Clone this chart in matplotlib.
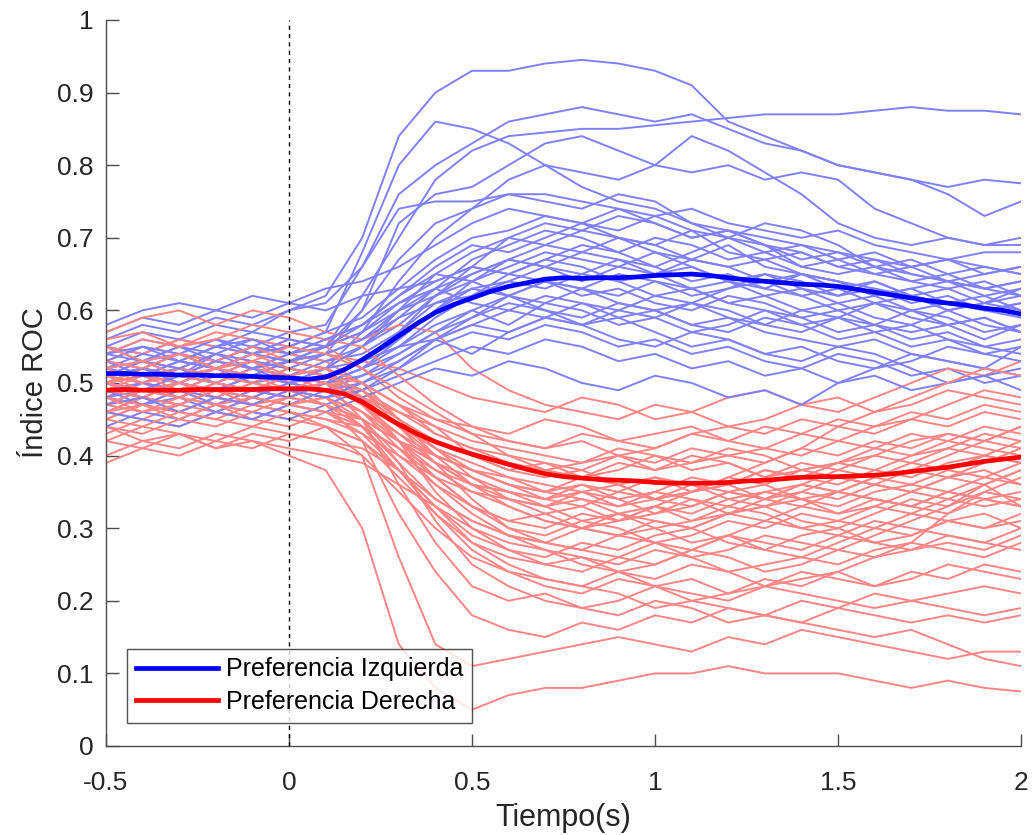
import matplotlib
matplotlib.use("Agg")
import matplotlib.pyplot as plt

plt.rcParams['font.family'] = ['Liberation Sans', 'DejaVu Sans']

# time axis (s) for the individual curves
time = [-0.5, -0.4, -0.3, -0.2, -0.1, 0.0, 0.1, 0.2, 0.3, 0.4, 0.5, 0.6, 0.7,
        0.8, 0.9, 1.0, 1.1, 1.2, 1.3, 1.4, 1.5, 1.6, 1.7, 1.8, 1.9, 2.0]

# individual ROC curves, left-preferring neurons
left_curves = [
    [0.55,0.57,0.56,0.58,0.57,0.60,0.62,0.70,0.84,0.90,0.93,0.93,0.94,0.945,0.94,0.93,0.91,0.86,0.84,0.82,0.80,0.79,0.78,0.77,0.78,0.775],
    [0.50,0.52,0.51,0.53,0.52,0.54,0.55,0.62,0.70,0.78,0.82,0.84,0.845,0.85,0.85,0.855,0.86,0.865,0.87,0.87,0.87,0.875,0.88,0.875,0.875,0.87],
    [0.52,0.53,0.55,0.54,0.56,0.55,0.57,0.68,0.80,0.86,0.85,0.83,0.80,0.77,0.75,0.74,0.72,0.71,0.70,0.69,0.68,0.67,0.66,0.67,0.66,0.65],
    [0.54,0.53,0.55,0.56,0.55,0.57,0.58,0.66,0.76,0.80,0.83,0.86,0.87,0.88,0.87,0.86,0.87,0.85,0.83,0.82,0.80,0.79,0.78,0.76,0.73,0.75],
    [0.50,0.51,0.50,0.52,0.51,0.53,0.54,0.60,0.72,0.76,0.77,0.80,0.83,0.84,0.82,0.80,0.79,0.80,0.78,0.79,0.78,0.74,0.72,0.70,0.69,0.69],
    [0.56,0.58,0.57,0.59,0.58,0.60,0.61,0.66,0.74,0.75,0.75,0.76,0.76,0.75,0.74,0.73,0.74,0.72,0.71,0.70,0.71,0.69,0.68,0.67,0.68,0.68],
    [0.48,0.49,0.50,0.49,0.51,0.50,0.52,0.57,0.64,0.70,0.74,0.78,0.80,0.79,0.78,0.80,0.84,0.82,0.79,0.76,0.72,0.70,0.69,0.70,0.69,0.70],
    [0.52,0.51,0.53,0.52,0.54,0.53,0.55,0.60,0.67,0.72,0.74,0.76,0.75,0.74,0.76,0.75,0.72,0.70,0.72,0.71,0.69,0.66,0.65,0.64,0.63,0.64],
    [0.50,0.52,0.51,0.50,0.52,0.51,0.52,0.55,0.60,0.65,0.68,0.70,0.69,0.71,0.70,0.68,0.67,0.69,0.66,0.65,0.64,0.63,0.62,0.63,0.61,0.62],
    [0.53,0.52,0.54,0.53,0.52,0.54,0.53,0.55,0.58,0.62,0.64,0.66,0.68,0.67,0.66,0.68,0.66,0.64,0.65,0.63,0.62,0.64,0.62,0.60,0.61,0.60],
    [0.47,0.49,0.48,0.50,0.49,0.48,0.50,0.52,0.56,0.60,0.63,0.64,0.66,0.65,0.67,0.66,0.64,0.65,0.63,0.62,0.60,0.61,0.59,0.58,0.59,0.57],
    [0.55,0.54,0.56,0.55,0.57,0.56,0.55,0.57,0.60,0.62,0.66,0.70,0.72,0.71,0.73,0.72,0.70,0.71,0.69,0.66,0.65,0.66,0.64,0.65,0.63,0.64],
    [0.51,0.50,0.49,0.51,0.50,0.52,0.51,0.53,0.55,0.58,0.60,0.62,0.61,0.63,0.62,0.64,0.63,0.61,0.62,0.60,0.61,0.59,0.58,0.60,0.58,0.57],
    [0.49,0.47,0.48,0.46,0.48,0.47,0.49,0.51,0.54,0.57,0.59,0.61,0.60,0.59,0.61,0.60,0.58,0.57,0.59,0.58,0.56,0.57,0.55,0.56,0.54,0.55],
    [0.54,0.56,0.55,0.53,0.55,0.54,0.56,0.58,0.62,0.66,0.69,0.68,0.70,0.72,0.70,0.69,0.71,0.68,0.67,0.68,0.66,0.65,0.66,0.64,0.65,0.66],
    [0.50,0.51,0.53,0.52,0.50,0.51,0.53,0.54,0.57,0.61,0.62,0.65,0.64,0.62,0.63,0.61,0.60,0.62,0.61,0.59,0.60,0.58,0.57,0.58,0.56,0.58],
    [0.46,0.48,0.47,0.49,0.48,0.50,0.49,0.50,0.52,0.55,0.57,0.56,0.58,0.57,0.55,0.56,0.54,0.55,0.53,0.52,0.54,0.53,0.51,0.52,0.50,0.51],
    [0.52,0.53,0.51,0.54,0.53,0.52,0.54,0.56,0.60,0.63,0.67,0.69,0.71,0.70,0.68,0.70,0.69,0.67,0.68,0.66,0.67,0.65,0.64,0.63,0.64,0.62],
    [0.57,0.59,0.58,0.60,0.59,0.61,0.60,0.62,0.63,0.64,0.66,0.65,0.67,0.66,0.64,0.65,0.63,0.64,0.62,0.63,0.61,0.62,0.60,0.61,0.62,0.60],
    [0.48,0.50,0.49,0.47,0.49,0.48,0.50,0.51,0.53,0.56,0.58,0.60,0.59,0.61,0.60,0.62,0.61,0.63,0.64,0.62,0.63,0.61,0.62,0.60,0.61,0.63],
    [0.51,0.52,0.50,0.52,0.51,0.53,0.52,0.55,0.59,0.63,0.65,0.67,0.66,0.64,0.66,0.65,0.67,0.66,0.64,0.65,0.63,0.64,0.62,0.61,0.60,0.59],
    [0.53,0.51,0.52,0.50,0.52,0.51,0.50,0.52,0.55,0.59,0.62,0.64,0.63,0.65,0.64,0.62,0.63,0.61,0.60,0.58,0.59,0.57,0.58,0.56,0.55,0.56],
    [0.49,0.50,0.52,0.51,0.53,0.52,0.51,0.53,0.56,0.60,0.64,0.67,0.69,0.68,0.70,0.69,0.67,0.66,0.67,0.65,0.64,0.62,0.63,0.61,0.60,0.61],
    [0.55,0.53,0.54,0.56,0.54,0.55,0.57,0.59,0.63,0.67,0.70,0.71,0.73,0.72,0.71,0.73,0.71,0.70,0.68,0.69,0.67,0.68,0.66,0.67,0.65,0.66],
    [0.50,0.49,0.51,0.50,0.49,0.51,0.50,0.52,0.54,0.57,0.60,0.58,0.61,0.60,0.58,0.59,0.57,0.58,0.60,0.59,0.57,0.58,0.56,0.57,0.55,0.54],
    [0.52,0.54,0.53,0.55,0.54,0.56,0.55,0.57,0.61,0.64,0.66,0.65,0.67,0.69,0.68,0.66,0.68,0.70,0.69,0.67,0.68,0.66,0.67,0.65,0.66,0.65],
    [0.48,0.47,0.49,0.48,0.47,0.49,0.48,0.49,0.51,0.53,0.55,0.54,0.56,0.55,0.53,0.54,0.52,0.53,0.51,0.52,0.50,0.51,0.49,0.50,0.51,0.49],
    [0.46,0.45,0.44,0.46,0.45,0.47,0.46,0.48,0.50,0.52,0.51,0.53,0.52,0.50,0.49,0.51,0.50,0.48,0.49,0.47,0.50,0.52,0.53,0.55,0.54,0.53],
    [0.51,0.52,0.51,0.53,0.52,0.50,0.52,0.53,0.55,0.56,0.54,0.57,0.59,0.58,0.56,0.55,0.57,0.56,0.54,0.55,0.53,0.52,0.54,0.53,0.52,0.55],
    [0.58,0.60,0.61,0.60,0.62,0.61,0.63,0.64,0.66,0.69,0.72,0.74,0.73,0.72,0.74,0.72,0.70,0.71,0.69,0.68,0.66,0.67,0.65,0.64,0.63,0.62],
    [0.44,0.46,0.45,0.47,0.46,0.45,0.47,0.49,0.52,0.56,0.59,0.62,0.64,0.63,0.61,0.60,0.58,0.59,0.57,0.56,0.55,0.56,0.54,0.53,0.52,0.51],
    [0.53,0.55,0.54,0.52,0.54,0.53,0.55,0.58,0.62,0.65,0.64,0.62,0.60,0.58,0.59,0.57,0.55,0.56,0.54,0.53,0.55,0.54,0.52,0.50,0.51,0.52],
    [0.51,0.53,0.52,0.54,0.52,0.53,0.54,0.56,0.59,0.61,0.63,0.62,0.64,0.63,0.65,0.64,0.62,0.63,0.65,0.64,0.62,0.63,0.61,0.62,0.60,0.61],
    [0.49,0.48,0.50,0.49,0.51,0.50,0.51,0.53,0.57,0.62,0.65,0.67,0.66,0.68,0.67,0.65,0.66,0.64,0.63,0.65,0.64,0.62,0.63,0.64,0.62,0.63],
    [0.54,0.55,0.53,0.55,0.56,0.54,0.56,0.58,0.61,0.63,0.61,0.60,0.62,0.61,0.59,0.60,0.61,0.59,0.58,0.60,0.59,0.61,0.60,0.58,0.59,0.57],
    [0.47,0.48,0.46,0.48,0.47,0.49,0.48,0.50,0.53,0.56,0.58,0.57,0.59,0.58,0.60,0.59,0.61,0.60,0.58,0.57,0.59,0.58,0.60,0.59,0.57,0.58],
]

# individual ROC curves, right-preferring neurons
right_curves = [
    [0.42,0.44,0.43,0.41,0.42,0.40,0.38,0.30,0.14,0.08,0.05,0.07,0.08,0.08,0.09,0.10,0.10,0.11,0.10,0.10,0.10,0.09,0.08,0.09,0.08,0.075],
    [0.45,0.47,0.46,0.48,0.47,0.46,0.44,0.40,0.26,0.14,0.11,0.12,0.13,0.14,0.15,0.14,0.13,0.15,0.14,0.16,0.15,0.14,0.13,0.12,0.13,0.13],
    [0.48,0.47,0.49,0.48,0.50,0.49,0.47,0.42,0.32,0.24,0.18,0.16,0.15,0.17,0.16,0.18,0.17,0.19,0.18,0.17,0.16,0.15,0.16,0.14,0.12,0.11],
    [0.50,0.49,0.51,0.50,0.49,0.51,0.50,0.45,0.36,0.28,0.22,0.20,0.21,0.19,0.20,0.22,0.21,0.20,0.22,0.21,0.20,0.19,0.20,0.21,0.22,0.21],
    [0.46,0.45,0.47,0.46,0.48,0.47,0.46,0.43,0.38,0.32,0.27,0.24,0.23,0.22,0.24,0.23,0.25,0.24,0.22,0.23,0.24,0.22,0.23,0.25,0.24,0.23],
    [0.52,0.51,0.53,0.52,0.51,0.53,0.52,0.48,0.42,0.35,0.30,0.27,0.25,0.26,0.24,0.25,0.27,0.26,0.24,0.25,0.27,0.29,0.31,0.33,0.36,0.38],
    [0.49,0.50,0.48,0.50,0.49,0.48,0.47,0.44,0.39,0.34,0.31,0.29,0.28,0.27,0.29,0.28,0.26,0.27,0.29,0.28,0.27,0.26,0.27,0.28,0.27,0.29],
    [0.44,0.42,0.43,0.41,0.43,0.42,0.44,0.42,0.38,0.33,0.29,0.27,0.26,0.28,0.27,0.29,0.30,0.28,0.27,0.29,0.30,0.28,0.29,0.31,0.30,0.32],
    [0.51,0.53,0.52,0.54,0.53,0.52,0.51,0.47,0.42,0.38,0.35,0.33,0.31,0.30,0.32,0.31,0.30,0.32,0.33,0.31,0.30,0.32,0.34,0.33,0.35,0.34],
    [0.47,0.48,0.47,0.49,0.48,0.50,0.49,0.46,0.42,0.39,0.37,0.35,0.34,0.33,0.35,0.34,0.33,0.35,0.34,0.36,0.35,0.37,0.36,0.38,0.37,0.39],
    [0.53,0.52,0.54,0.53,0.55,0.54,0.53,0.50,0.45,0.42,0.40,0.38,0.37,0.38,0.36,0.37,0.35,0.36,0.38,0.37,0.39,0.38,0.40,0.41,0.40,0.42],
    [0.48,0.50,0.49,0.47,0.49,0.48,0.50,0.47,0.44,0.41,0.39,0.37,0.36,0.35,0.36,0.34,0.35,0.36,0.34,0.35,0.37,0.36,0.35,0.37,0.38,0.36],
    [0.50,0.48,0.50,0.49,0.51,0.50,0.49,0.48,0.46,0.44,0.42,0.41,0.40,0.39,0.40,0.38,0.39,0.40,0.41,0.40,0.42,0.41,0.43,0.42,0.44,0.43],
    [0.55,0.54,0.56,0.55,0.54,0.56,0.55,0.52,0.48,0.45,0.43,0.42,0.41,0.42,0.40,0.41,0.43,0.42,0.44,0.43,0.45,0.44,0.46,0.45,0.47,0.46],
    [0.45,0.47,0.46,0.45,0.47,0.46,0.45,0.44,0.41,0.38,0.36,0.34,0.33,0.31,0.32,0.30,0.31,0.33,0.32,0.30,0.31,0.33,0.32,0.31,0.30,0.31],
    [0.52,0.50,0.51,0.53,0.52,0.51,0.50,0.49,0.46,0.43,0.41,0.39,0.38,0.37,0.39,0.38,0.40,0.39,0.37,0.38,0.39,0.41,0.40,0.42,0.41,0.40],
    [0.43,0.45,0.44,0.46,0.45,0.44,0.46,0.45,0.42,0.40,0.38,0.37,0.35,0.36,0.34,0.35,0.37,0.36,0.38,0.37,0.36,0.38,0.37,0.39,0.40,0.39],
    [0.50,0.51,0.52,0.51,0.50,0.52,0.51,0.48,0.45,0.41,0.37,0.34,0.32,0.33,0.31,0.32,0.34,0.33,0.35,0.34,0.33,0.35,0.36,0.35,0.37,0.36],
    [0.57,0.59,0.60,0.58,0.60,0.59,0.57,0.56,0.58,0.57,0.52,0.49,0.47,0.46,0.45,0.47,0.46,0.44,0.45,0.47,0.46,0.48,0.50,0.52,0.51,0.53],
    [0.54,0.56,0.55,0.57,0.56,0.55,0.54,0.53,0.52,0.50,0.48,0.47,0.46,0.48,0.47,0.45,0.46,0.48,0.49,0.47,0.48,0.46,0.47,0.49,0.48,0.47],
    [0.47,0.46,0.48,0.47,0.45,0.47,0.48,0.46,0.43,0.40,0.38,0.36,0.35,0.34,0.33,0.35,0.34,0.32,0.33,0.34,0.32,0.33,0.35,0.34,0.33,0.34],
    [0.49,0.51,0.50,0.52,0.51,0.49,0.50,0.47,0.43,0.39,0.36,0.33,0.31,0.30,0.29,0.30,0.28,0.29,0.31,0.30,0.29,0.31,0.30,0.29,0.28,0.30],
    [0.51,0.49,0.50,0.48,0.50,0.52,0.51,0.50,0.47,0.44,0.40,0.38,0.39,0.37,0.38,0.40,0.39,0.41,0.40,0.38,0.39,0.40,0.42,0.43,0.42,0.44],
    [0.46,0.48,0.47,0.49,0.47,0.48,0.47,0.45,0.40,0.36,0.33,0.31,0.32,0.30,0.31,0.33,0.32,0.34,0.33,0.35,0.34,0.36,0.35,0.37,0.39,0.41],
    [0.42,0.41,0.43,0.42,0.44,0.43,0.42,0.40,0.35,0.30,0.26,0.24,0.22,0.21,0.23,0.22,0.20,0.21,0.23,0.22,0.24,0.26,0.28,0.32,0.35,0.37],
    [0.53,0.55,0.54,0.53,0.55,0.53,0.52,0.50,0.47,0.45,0.44,0.43,0.45,0.44,0.42,0.43,0.44,0.42,0.41,0.43,0.42,0.44,0.45,0.44,0.46,0.45],
    [0.48,0.47,0.46,0.48,0.47,0.49,0.48,0.44,0.38,0.33,0.28,0.26,0.25,0.24,0.26,0.25,0.27,0.29,0.28,0.27,0.29,0.28,0.27,0.29,0.28,0.27],
    [0.50,0.52,0.51,0.50,0.52,0.51,0.49,0.46,0.41,0.36,0.32,0.29,0.28,0.30,0.29,0.31,0.30,0.32,0.31,0.33,0.32,0.34,0.33,0.35,0.34,0.33],
    [0.44,0.43,0.45,0.44,0.46,0.45,0.44,0.42,0.37,0.32,0.28,0.25,0.23,0.22,0.21,0.19,0.20,0.19,0.18,0.20,0.19,0.21,0.20,0.19,0.18,0.19],
    [0.56,0.57,0.55,0.56,0.58,0.57,0.56,0.55,0.51,0.47,0.44,0.42,0.41,0.43,0.42,0.41,0.43,0.44,0.43,0.45,0.44,0.43,0.45,0.47,0.49,0.48],
    [0.40,0.42,0.41,0.43,0.42,0.41,0.40,0.39,0.36,0.33,0.30,0.28,0.27,0.26,0.25,0.27,0.26,0.24,0.25,0.26,0.25,0.27,0.28,0.27,0.26,0.28],
    [0.51,0.50,0.52,0.51,0.53,0.50,0.51,0.49,0.45,0.40,0.36,0.35,0.34,0.36,0.35,0.37,0.36,0.34,0.35,0.36,0.38,0.37,0.39,0.38,0.40,0.39],
    [0.47,0.49,0.48,0.47,0.48,0.47,0.48,0.45,0.39,0.31,0.25,0.22,0.20,0.19,0.18,0.20,0.19,0.17,0.18,0.17,0.19,0.18,0.17,0.18,0.17,0.18],
    [0.49,0.48,0.50,0.49,0.47,0.49,0.50,0.48,0.44,0.40,0.38,0.36,0.34,0.35,0.33,0.34,0.36,0.35,0.34,0.36,0.35,0.34,0.33,0.35,0.34,0.35],
    [0.52,0.53,0.51,0.52,0.54,0.52,0.51,0.49,0.44,0.39,0.34,0.30,0.28,0.27,0.26,0.28,0.27,0.29,0.27,0.26,0.28,0.30,0.32,0.34,0.36,0.33],
    [0.45,0.44,0.46,0.45,0.44,0.46,0.45,0.43,0.40,0.37,0.35,0.34,0.33,0.35,0.34,0.32,0.33,0.35,0.36,0.34,0.35,0.37,0.38,0.40,0.42,0.44],
    [0.55,0.53,0.54,0.52,0.53,0.55,0.54,0.52,0.49,0.46,0.43,0.40,0.39,0.38,0.40,0.39,0.41,0.40,0.39,0.41,0.40,0.42,0.41,0.43,0.42,0.41],
    [0.48,0.46,0.47,0.49,0.48,0.47,0.46,0.44,0.41,0.37,0.33,0.30,0.29,0.31,0.30,0.28,0.29,0.31,0.30,0.32,0.31,0.30,0.29,0.31,0.32,0.30],
    [0.50,0.49,0.48,0.50,0.49,0.51,0.50,0.47,0.42,0.37,0.33,0.31,0.30,0.32,0.31,0.33,0.35,0.37,0.39,0.41,0.44,0.46,0.48,0.50,0.52,0.51],
    [0.39,0.41,0.40,0.42,0.41,0.43,0.42,0.41,0.38,0.34,0.31,0.29,0.27,0.25,0.24,0.22,0.23,0.21,0.22,0.24,0.23,0.22,0.24,0.23,0.25,0.24],
    [0.50,0.51,0.49,0.51,0.50,0.49,0.51,0.49,0.45,0.41,0.38,0.36,0.35,0.37,0.36,0.34,0.35,0.37,0.36,0.38,0.37,0.36,0.38,0.37,0.36,0.38],
    [0.46,0.47,0.45,0.47,0.46,0.48,0.47,0.45,0.42,0.39,0.36,0.35,0.33,0.34,0.32,0.33,0.31,0.32,0.34,0.33,0.35,0.34,0.33,0.32,0.34,0.33],
    [0.53,0.52,0.54,0.52,0.53,0.51,0.52,0.50,0.47,0.43,0.41,0.40,0.38,0.39,0.41,0.40,0.38,0.39,0.37,0.39,0.38,0.40,0.39,0.41,0.43,0.42],
]

# population means (time step 0.05 s)
time_mean = [-0.5, -0.45, -0.4, -0.35, -0.3, -0.25, -0.2, -0.15, -0.1, -0.05,
             0.0, 0.05, 0.1, 0.15, 0.2, 0.25, 0.3, 0.35, 0.4, 0.45,
             0.5, 0.55, 0.6, 0.65, 0.7, 0.75, 0.8, 0.85, 0.9, 0.95,
             1.0, 1.05, 1.1, 1.15, 1.2, 1.25, 1.3, 1.35, 1.4, 1.45,
             1.5, 1.55, 1.6, 1.65, 1.7, 1.75, 1.8, 1.85, 1.9, 1.95, 2.0]
left_mean = [0.513, 0.513, 0.512, 0.512, 0.511, 0.511, 0.510, 0.510, 0.509, 0.508,
             0.507, 0.505, 0.508, 0.518, 0.532, 0.548, 0.565, 0.582, 0.597, 0.608,
             0.617, 0.626, 0.633, 0.638, 0.643, 0.645, 0.644, 0.645, 0.645, 0.646,
             0.648, 0.649, 0.650, 0.648, 0.645, 0.642, 0.640, 0.638, 0.636, 0.635,
             0.633, 0.629, 0.625, 0.621, 0.617, 0.613, 0.610, 0.607, 0.603, 0.600, 0.595]
right_mean = [0.490, 0.491, 0.490, 0.490, 0.490, 0.491, 0.491, 0.491, 0.491, 0.492,
              0.492, 0.492, 0.490, 0.485, 0.474, 0.458, 0.443, 0.430, 0.419, 0.410,
              0.402, 0.395, 0.388, 0.381, 0.375, 0.371, 0.369, 0.367, 0.366, 0.365,
              0.363, 0.362, 0.362, 0.362, 0.363, 0.365, 0.366, 0.368, 0.370, 0.371,
              0.371, 0.372, 0.373, 0.375, 0.378, 0.381, 0.384, 0.388, 0.392, 0.395, 0.398]

x_ticks = [-0.5, 0, 0.5, 1, 1.5, 2]
x_tick_labels = ['-0.5', '0', '0.5', '1', '1.5', '2']
y_ticks = [0, 0.1, 0.2, 0.3, 0.4, 0.5, 0.6, 0.7, 0.8, 0.9, 1]
y_tick_labels = ['0', '0.1', '0.2', '0.3', '0.4', '0.5', '0.6', '0.7', '0.8', '0.9', '1']

fig = plt.figure(figsize=(10.34, 8.35), dpi=100)
ax = fig.add_axes([0.1025, 0.1066, 0.885, 0.8695])

light_blue = '#8080ff'
light_red = '#ff8585'
n = max(len(left_curves), len(right_curves))
for i in range(n):
    if i < len(left_curves):
        ax.plot(time, left_curves[i], color=light_blue, lw=1.4, zorder=2)
    if i < len(right_curves):
        ax.plot(time, right_curves[i], color=light_red, lw=1.4, zorder=2)

ax.axvline(0, color='black', lw=1.0, linestyle=(0, (3, 3)), zorder=3)

ax.plot(time_mean, left_mean, color='#0000ff', lw=3.4, zorder=4,
        label='Preferencia Izquierda')
ax.plot(time_mean, right_mean, color='#ff0000', lw=3.4, zorder=4,
        label='Preferencia Derecha')

ax.set_xlim(-0.5, 2)
ax.set_ylim(0, 1)
ax.set_xticks(x_ticks)
ax.set_xticklabels(x_tick_labels)
ax.set_yticks(y_ticks)
ax.set_yticklabels(y_tick_labels)

for s in ['top', 'right']:
    ax.spines[s].set_visible(False)
for s in ['left', 'bottom']:
    ax.spines[s].set_color('#4d4d4d')
    ax.spines[s].set_linewidth(1.0)

ax.tick_params(direction='in', length=9, width=1.0, colors='#4d4d4d',
               labelcolor='#262626', labelsize=19)
ax.tick_params(axis='x', pad=18)
ax.tick_params(axis='y', pad=9)

ax.set_xlabel('Tiempo(s)', fontsize=22, color='#262626', labelpad=6)
ax.set_ylabel('Índice ROC', fontsize=21, color='#262626', labelpad=6)

leg = ax.legend(loc='lower left', bbox_to_anchor=(0.023, 0.032), fontsize=18,
                frameon=True, fancybox=False, edgecolor='#262626',
                handlelength=3.3, handletextpad=0.3, borderpad=0.35,
                labelspacing=0.35, borderaxespad=0.0)
leg.get_frame().set_linewidth(1.0)
leg.set_zorder(10)

fig.savefig('out.png', dpi=100, facecolor='white')
